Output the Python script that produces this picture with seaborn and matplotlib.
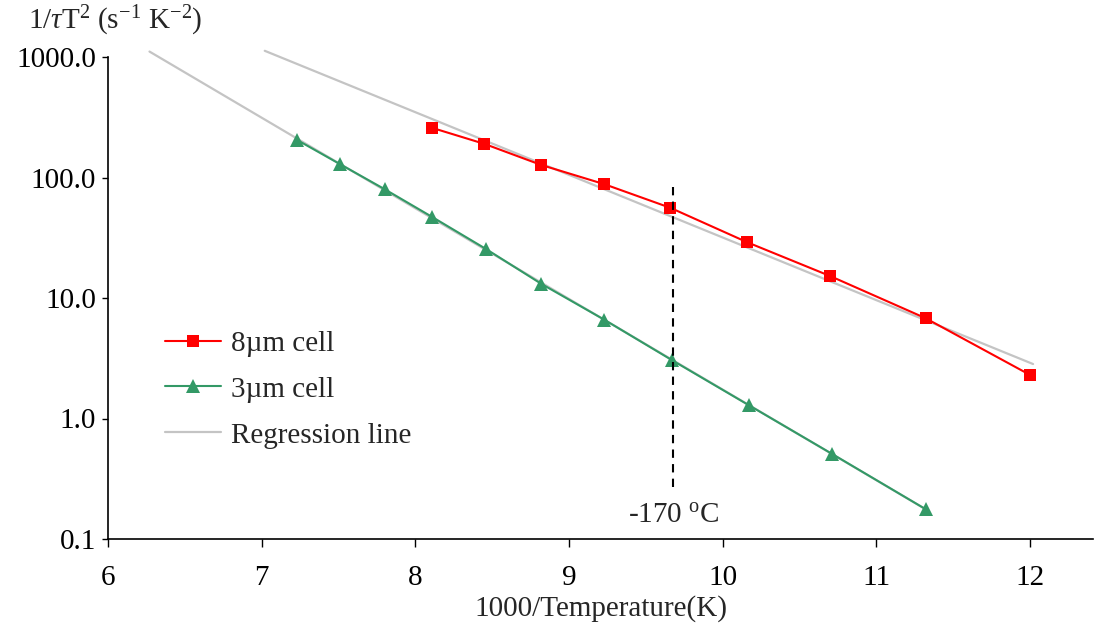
import numpy as np
import pandas as pd
import matplotlib
matplotlib.use("Agg")
import matplotlib.pyplot as plt
from matplotlib.lines import Line2D
from matplotlib.ticker import FixedLocator, FuncFormatter, NullLocator
import seaborn as sns

# Measured relaxation rates versus inverse temperature
x_8um = [8.11, 8.45, 8.82, 9.23, 9.66, 10.16, 10.70, 11.32, 12.00]
y_8um = [258, 190, 127, 88, 56, 29, 15.2, 6.8, 2.3]

x_3um = [7.23, 7.51, 7.80, 8.11, 8.46, 8.82, 9.23, 9.67, 10.17, 10.71, 11.32]
y_3um = [205, 129, 80, 47, 25.5, 13.1, 6.6, 3.05, 1.29, 0.51, 0.177]

# x-extent over which each regression line is drawn
fit_range_8um = [7.02, 12.02]
fit_range_3um = [6.27, 11.32]

marker_x = 9.68
marker_span = [0.27, 90]

y_ticks = [0.1, 1, 10, 100, 1000]
x_ticks = [6, 7, 8, 9, 10, 11, 12]

FS = 21

sns.set_style("ticks")
plt.rcParams["font.family"] = ["Liberation Serif", "DejaVu Serif"]
plt.rcParams["mathtext.fontset"] = "custom"
plt.rcParams["mathtext.rm"] = "Liberation Serif"
plt.rcParams["mathtext.it"] = "Liberation Serif:italic"

fig = plt.figure(figsize=(10.94, 6.33), dpi=100)
ax = fig.add_axes([108 / 1094, 1 - 539 / 633, (1093 - 108) / 1094, (539 - 57) / 633])


def regression(xs, ys, rng):
    slope, icpt = np.polyfit(xs, np.log10(ys), 1)
    xr = np.array(rng)
    return pd.DataFrame({"x": xr, "y": 10 ** (icpt + slope * xr)})


reg_color = "#c4c4c4"
r8 = regression(x_8um, y_8um, fit_range_8um)
r3 = regression(x_3um, y_3um, fit_range_3um)
sns.lineplot(data=r8, x="x", y="y", ax=ax, color=reg_color, lw=1.6, zorder=2)
sns.lineplot(data=r3, x="x", y="y", ax=ax, color=reg_color, lw=1.6, zorder=2)
# regression lines run slightly past the top of the axis
for ln in ax.lines:
    ln.set_clip_on(False)

d8 = pd.DataFrame({"x": x_8um, "y": y_8um})
d3 = pd.DataFrame({"x": x_3um, "y": y_3um})
red = "#ff0000"
green = "#339966"
sns.lineplot(data=d8, x="x", y="y", ax=ax, color=red, lw=1.5, marker="s",
             markersize=8.5, markeredgewidth=0, zorder=3)
sns.lineplot(data=d3, x="x", y="y", ax=ax, color=green, lw=1.5, marker="^",
             markersize=9.5, markeredgewidth=0, zorder=3)

ax.vlines(marker_x, marker_span[0], marker_span[1], colors="black",
          linestyles=(0, (4, 3)), lw=1.5, zorder=4)
ax.text(marker_x, 0.155, r"-170 $^{\mathrm{o}}$C", ha="center", va="center",
        fontsize=FS)

ax.set_yscale("log")
ax.set_xlim(6, 12.41)
ax.set_ylim(0.1, 1000)
ax.yaxis.set_major_locator(FixedLocator(y_ticks))
ax.yaxis.set_minor_locator(NullLocator())
ax.yaxis.set_major_formatter(FuncFormatter(lambda v, p: f"{v:.1f}"))
ax.xaxis.set_major_locator(FixedLocator(x_ticks))

for s in ["top", "right"]:
    ax.spines[s].set_visible(False)
for s in ["left", "bottom"]:
    ax.spines[s].set_linewidth(1.2)
    ax.spines[s].set_color("black")

ax.tick_params(axis="x", direction="out", length=6, width=1, pad=13,
               labelsize=FS, colors="black")
ax.tick_params(axis="y", direction="out", length=4.5, width=1, pad=4,
               labelsize=FS, colors="black")
ax.set_xlabel("1000/Temperature(K)", fontsize=FS, labelpad=3)
ax.set_ylabel("")
fig.text(28 / 1094, 1 - 21 / 633, r"1/$\tau$T$^2$ (s$^{-1}$ K$^{-2}$)",
         ha="left", va="center", fontsize=FS)

handles = [
    Line2D([], [], color=red, lw=1.5, marker="s", markersize=8.5, markeredgewidth=0),
    Line2D([], [], color=green, lw=1.5, marker="^", markersize=9.5, markeredgewidth=0),
    Line2D([], [], color=reg_color, lw=1.6),
]
ax.legend(handles, ["8\u00b5m cell", "3\u00b5m cell", "Regression line"],
          loc="upper left", bbox_to_anchor=(0.058, 0.433), frameon=False,
          fontsize=FS, handlelength=1.9, handletextpad=0.35, labelspacing=0.67,
          borderpad=0, borderaxespad=0)

fig.savefig("out.png", dpi=100)
